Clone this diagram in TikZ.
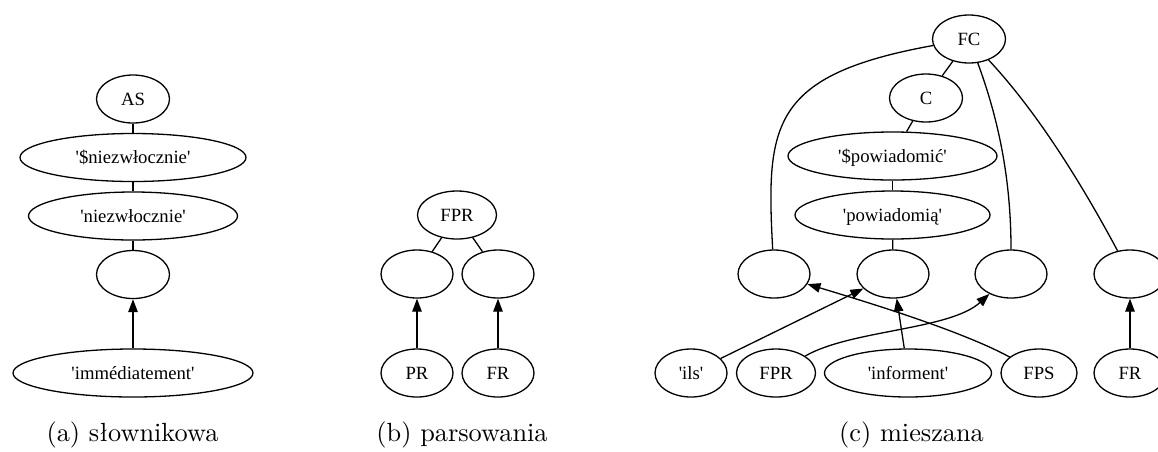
\documentclass[tikz,border=0pt]{standalone}
\usepackage{fontspec}
\usetikzlibrary{shapes.geometric,arrows.meta}
\newfontfamily\gvfont{Liberation Serif}[Ligatures=TeXOff]
\newfontfamily\capfont{lmroman10-regular.otf}
\begin{document}
\begin{tikzpicture}[x=1pt,y=-1pt,
  gv/.style={ellipse,draw,line width=1.3pt,inner sep=0pt,minimum height=48pt,
    text height=12.5pt,text depth=0.5pt,
    font=\gvfont\fontsize{18.7}{22}\selectfont},
  link/.style={line width=1.3pt},
  arr/.style={line width=1.3pt,-{Triangle[length=13pt,width=9.5pt]}},
  subcap/.style={anchor=base,inner sep=0pt,font=\capfont\fontsize{26.3}{30}\selectfont}]
\useasboundingbox (0,0) rectangle (1158,451);

% (a) dictionary tree
\node[gv,minimum width=73pt]  (aAS) at (133,99)    {AS};
\node[gv,minimum width=226pt] (aS)  at (133,157.5) {'\$niezwłocznie'};
\node[gv,minimum width=209pt] (aN)  at (133,216)   {'niezwłocznie'};
\node[gv,minimum width=73pt]  (aE)  at (133,274.5) {};
\node[gv,minimum width=240pt] (aI)  at (133,373)   {'immédiatement'};
\draw[link] (aAS) -- (aS);
\draw[link] (aS) -- (aN);
\draw[link] (aN) -- (aE);
\draw[arr] (aI) -- (aE);
\node[subcap] (capa) at (132.5,441) {(a) słownikowa};

% (b) parse tree
\node[gv,minimum width=79pt] (bF) at (457,215) {FPR};
\node[gv,minimum width=72pt] (bL) at (417,274) {};
\node[gv,minimum width=72pt] (bR) at (498,274) {};
\node[gv,minimum width=72pt] (bP) at (417,373) {PR};
\node[gv,minimum width=72pt] (bQ) at (498,373) {FR};
\draw[link] (bF) -- (bL);
\draw[link] (bF) -- (bR);
\draw[arr] (bP) -- (bL);
\draw[arr] (bQ) -- (bR);
\node[subcap] (capb) at (462,441) {(b) parsowania};

% (c) mixed tree
\node[gv,minimum width=73pt]  (cFC)  at (969,39)    {FC};
\node[gv,minimum width=73pt]  (cC)   at (926,98)    {C};
\node[gv,minimum width=209pt] (cSP)  at (892.5,156) {'\$powiadomić'};
\node[gv,minimum width=195pt] (cP)   at (892.5,215) {'powiadomią'};
\node[gv,minimum width=72pt]  (c1)   at (774,274)   {};
\node[gv,minimum width=72pt]  (c2)   at (893,274)   {};
\node[gv,minimum width=72pt]  (c3)   at (1011,274)  {};
\node[gv,minimum width=72pt]  (c4)   at (1130,274)  {};
\node[gv,minimum width=72pt]  (cils) at (691,373)   {'ils'};
\node[gv,minimum width=79pt]  (cFPR) at (776,373)   {FPR};
\node[gv,minimum width=167pt] (cinf) at (908,373)   {'informent'};
\node[gv,minimum width=76pt]  (cFPS) at (1039,373)  {FPS};
\node[gv,minimum width=72pt]  (cFR)  at (1130,373)  {FR};
\draw[link] (cFC) -- (cC);
\draw[link] (cC) -- (cSP);
\draw[link] (cSP) -- (cP);
\draw[link] (cP) -- (c2);
\draw[link] (cFC) .. controls (770,75) and (766,125) .. (c1);
\draw[link] (cFC) .. controls (995,110) and (1011,170) .. (c3);
\draw[link] (cFC) .. controls (1040,115) and (1085,190) .. (c4);
\draw[arr] (cils) -- (c2);
\draw[arr] (cinf) -- (c2);
\draw[arr] (cFPS) .. controls (960,330) and (860,300) .. (c1);
\draw[arr] (cFPR) .. controls (850,330) and (950,330) .. (c3);
\draw[arr] (cFR) -- (c4);
\node[subcap] (capc) at (911.5,441) {(c) mieszana};
\end{tikzpicture}
\end{document}
